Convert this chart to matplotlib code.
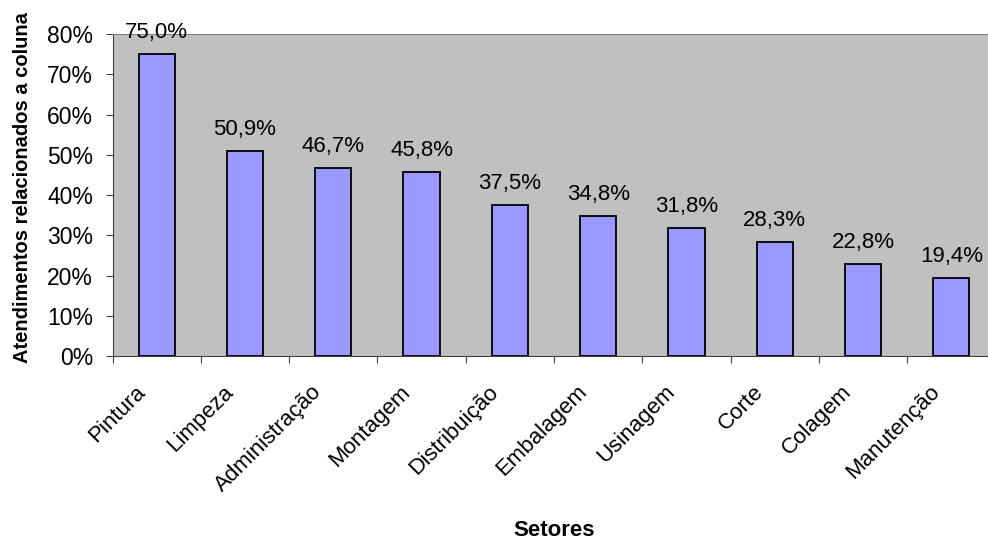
import matplotlib.pyplot as plt
import matplotlib.transforms as mtransforms
import numpy as np

plt.rcParams['font.family'] = ['Liberation Sans', 'DejaVu Sans']

setores = ['Pintura', 'Limpeza', 'Administração', 'Montagem', 'Distribuição',
           'Embalagem', 'Usinagem', 'Corte', 'Colagem', 'Manutenção']
valores = [75.0, 50.9, 46.7, 45.8, 37.5, 34.8, 31.8, 28.3, 22.8, 19.4]
y_ticks = [0, 10, 20, 30, 40, 50, 60, 70, 80]

fig = plt.figure(figsize=(9.88, 5.43), dpi=100)
# plot area runs past the right edge of the picture, as in the original
ax = fig.add_axes([0.1139, 0.344, 0.8937, 0.593])
ax.set_facecolor('#C0C0C0')

x = np.arange(len(setores))
ax.bar(x, valores, width=0.41, color='#9999FF', edgecolor='black', linewidth=1.3, zorder=2)

for xi, v in zip(x, valores):
    ax.annotate(f'{v:.1f}%'.replace('.', ','), (xi, v), xytext=(0, 11.5),
                textcoords='offset points', ha='center', va='baseline',
                fontsize=16, zorder=3, annotation_clip=False)

ax.set_xlim(-0.5, len(setores) - 0.5)
ax.set_ylim(0, 80)
ax.set_yticks(y_ticks)
ax.set_yticklabels([f'{t}%' for t in y_ticks], fontsize=16.5)

# ticks between the categories, labels centred under the bars
ax.set_xticks(np.arange(-0.5, len(setores), 1))
ax.set_xticklabels([])
ax.set_xticks(x, minor=True)
ax.set_xticklabels(setores, minor=True, rotation=45, ha='right', va='top',
                   rotation_mode='anchor', fontsize=16)
ax.tick_params(axis='x', which='minor', length=0, pad=8)
ax.tick_params(axis='x', which='major', length=5, color='#404040')
ax.tick_params(axis='y', length=5, color='#404040', pad=9)

shift = mtransforms.ScaledTranslation(-22 / 100, -14 / 100, fig.dpi_scale_trans)
for lbl in ax.get_xticklabels(minor=True):
    lbl.set_transform(lbl.get_transform() + shift)

ax.spines['top'].set_color('#808080')
ax.spines['right'].set_color('#808080')
ax.spines['left'].set_color('#404040')
ax.spines['bottom'].set_color('#404040')

ax.set_xlabel('Setores', fontsize=16, fontweight='bold', va='center')
ax.xaxis.set_label_coords(0.5, -0.54)
ax.set_ylabel('Atendimentos relacionados a coluna', fontsize=14.5, fontweight='bold')
ax.yaxis.set_label_coords(-0.091, 0.525)

fig.savefig('out.png', dpi=100)
